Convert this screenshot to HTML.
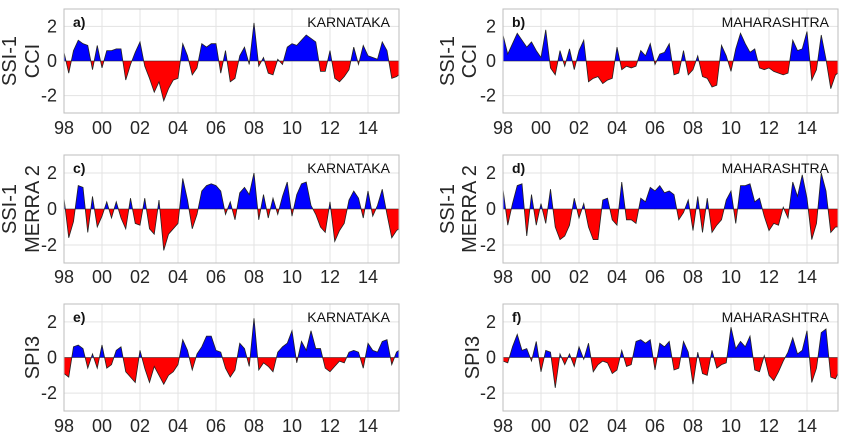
<!DOCTYPE html>
<html><head><meta charset="utf-8"><style>
html,body{margin:0;padding:0;background:#fff;}
svg{display:block;font-family:"Liberation Sans",sans-serif;}
</style></head><body>
<svg id="fig" width="846" height="435" viewBox="0 0 846 435"></svg>
<script>
// Quarterly samples starting 1998.0 (step 0.25 yr)
const startYear = 1998;
const stepYears = 0.25;
const xTickLabels = ["98","00","02","04","06","08","10","12","14"];
const xTickYears = [1998,2000,2002,2004,2006,2008,2010,2012,2014];
const yTickValues = [-2,0,2];
const panelLetters = ["a)","b)","c)","d)","e)","f)"];
const regionNames = ["KARNATAKA","MAHARASHTRA","KARNATAKA","MAHARASHTRA","KARNATAKA","MAHARASHTRA"];
const ssiCciKarnataka = [0.5,-0.7,0.6,1.2, 1.0,0.9,-0.5,0.9, -0.4,0.6,0.6,0.7, 0.7,-1.1,-0.2,0.5, 1.1,-0.3,-1.0,-1.8, -1.2,-2.3,-1.6,-1.1, -1.0,1.0,0.3,-0.8, -0.4,1.0,0.8,1.0, 1.0,-0.7,0.6,-1.2, -1.0,0.3,0.8,-0.2, 2.2,-0.3,0.2,-0.7, -0.8,0.1,-0.2,0.8, 1.0,0.9,1.2,1.5, 1.3,1.1,-0.6,-0.6, 0.6,-1.0,-1.2,-0.9, -0.5,0.8,-0.2,0.9, 0.3,0.2,0.1,1.1, 0.6,-1.0,-0.9,-0.7];
const ssiCciMaharashtra = [1.5,0.4,1.0,1.6, 1.2,0.8,1.1,0.6, 0.2,1.8,-0.4,-0.8, 0.6,-0.3,0.7,-0.5, 0.6,1.2,-1.2,-1.0, -0.9,-1.3,-1.1,-1.0, 0.8,-0.5,-0.3,-0.4, -0.3,0.6,0.3,1.0, -0.2,0.4,0.5,1.0, -0.8,-0.7,0.6,-0.8, -0.5,0.3,-0.9,-1.0, -1.5,-1.4,0.9,0.3, -0.6,0.7,1.6,1.0, 0.5,0.7,-0.4,-0.5, -0.4,-0.6,-0.7,-0.8, -0.7,1.2,0.6,0.7, 1.7,-1.1,-0.5,1.5, 0.1,-1.6,-0.8,-0.6];
const ssiMerraKarnataka = [0.6,-1.6,-0.7,1.3, 1.2,-1.3,0.7,-1.0, -0.4,0.4,-0.5,0.4, -0.5,-1.1,0.6,-0.8, -0.9,0.6,-1.1,-1.4, 0.5,-2.3,-1.4,-1.1, -0.8,1.7,0.5,-1.1, -0.3,1.0,1.3,1.4, 1.3,1.0,-0.3,0.4, -0.6,0.9,1.2,0.8, 2.0,-0.6,0.8,-0.5, 0.6,-0.3,0.7,1.5, -0.4,0.8,1.4,1.5, 0.2,-0.3,-1.0,-1.3, 0.4,-1.8,-1.2,-0.8, 0.5,1.0,0.6,-0.5, 1.0,-0.4,0.2,1.1, -0.3,-1.6,-1.2,-1.0];
const ssiMerraMaharashtra = [1.1,-0.9,0.3,1.3, 1.4,-1.5,0.8,-0.9, 0.3,-0.8,1.1,-1.0, -1.7,-1.5,-0.9,0.6, -0.5,0.3,-1.0,-1.7, -1.7,0.5,0.6,-0.6, -0.9,1.5,-0.6,-0.6, -0.8,0.6,0.4,1.2, 1.0,1.3,0.9,1.0, 0.8,-0.6,-0.2,0.5, -1.2,0.7,-1.3,0.6, -1.3,-0.9,-0.6,0.5, 1.0,-0.8,1.3,1.3, 1.4,0.4,0.6,-0.4, -1.2,-0.8,-0.9,0.1, -0.5,1.5,0.7,1.9, 0.6,-1.7,-0.8,2.0, 1.0,-1.3,-1.0,-1.0];
const spi3Karnataka = [-0.9,-1.1,0.6,0.7, 0.5,-0.6,0.2,-0.6, 0.7,-0.6,-0.4,0.4, 0.6,-0.8,-1.1,-1.4, 0.4,-0.6,-1.4,-0.5, -1.0,-1.5,-1.0,-0.8, -0.4,1.0,0.4,-0.7, 0.2,0.6,1.2,1.2, 0.4,0.3,-0.6,-1.1, -0.7,0.8,0.5,-0.5, 2.2,-0.7,-0.3,-0.5, -0.8,0.3,0.6,0.8, 1.5,-0.3,0.9,0.4, 1.5,0.5,0.5,-0.6, -0.8,-0.5,-0.2,-0.3, 0.3,0.4,0.3,-0.6, 0.8,0.4,0.3,0.9, 1.0,-0.4,0.3,0.5];
const spi3Maharashtra = [-0.2,-0.3,0.6,1.3, 0.4,0.5,-0.2,0.9, -0.8,0.4,0.3,-1.7, 0.2,-0.4,0.2,-0.5, 0.6,-0.1,0.8,-0.8, -0.4,-0.2,-0.3,-0.9, -0.7,0.4,-0.5,-0.4, 0.9,1.0,0.8,1.0, -0.7,0.8,0.6,0.9, -0.7,-0.6,0.9,0.3, -1.5,0.3,-0.9,-1.0, 0.4,-0.6,-0.4,-0.3, 1.7,0.5,0.9,0.6, 1.2,-0.7,-0.8,0.1, -1.0,-1.3,-0.8,-0.2, 0.3,1.1,0.2,0.4, 1.5,-1.4,-0.6,1.4, 1.6,-1.1,-1.2,-0.6];

const NS="http://www.w3.org/2000/svg";
const svg=document.getElementById('fig');
function mk(tag,attrs,parent){const e=document.createElementNS(NS,tag);for(const k in attrs)e.setAttribute(k,attrs[k]);(parent||svg).appendChild(e);return e;}

const series=[ssiCciKarnataka,ssiCciMaharashtra,ssiMerraKarnataka,ssiMerraMaharashtra,spi3Karnataka,spi3Maharashtra];
const cols=[{x0:64,x1:399,yl:57},{x0:503,x1:838,yl:496}];
const rows=[{top:9,bot:113,tickY:134},{top:155,bot:263,tickY:283},{top:304,bot:411,tickY:432}];
const yLabels=[["SSI-1","CCI"],["SSI-1","MERRA 2"],["SPI3"]];
const yLabelX=[[[10,33],[448,470]],[[10,33],[448,470]],[[33],[473]]];

series.forEach((data,i)=>{
  const c=cols[i%2], r=rows[Math.floor(i/2)];
  const g=mk('g',{});
  
  
  const pxPerYear=19;
  const xs=t=>c.x0+(t-1998)*pxPerYear;
  const ys=v=>r.bot-(v+3)*(r.bot-r.top)/6;
  xTickYears.forEach(t=>{const l=mk('line',{x1:xs(t),x2:xs(t),y1:r.top,y2:r.bot,stroke:'#e3e3e3','stroke-width':1},g);
    });
  yTickValues.forEach(v=>{const l=mk('line',{x1:c.x0,x2:c.x1,y1:ys(v),y2:ys(v),stroke:'#e3e3e3','stroke-width':1},g);
    });
  const cid='clip'+i;
  const cp=mk('clipPath',{id:cid},g);
  mk('rect',{x:c.x0,y:r.top,width:c.x1-c.x0,height:r.bot-r.top},cp);
  const pts=data.map((v,k)=>[xs(startYear+k*stepYears),ys(v)]);
  const z=ys(0);
  const poly='M'+pts[0][0]+','+z+' '+pts.map(p=>'L'+p[0]+','+p[1]).join(' ')+' L'+pts[pts.length-1][0]+','+z+' Z';
  const cpPos=mk('clipPath',{id:cid+'p'},g);mk('rect',{x:c.x0,y:r.top,width:c.x1-c.x0,height:z-r.top},cpPos);
  const cpNeg=mk('clipPath',{id:cid+'n'},g);mk('rect',{x:c.x0,y:z,width:c.x1-c.x0,height:r.bot-z},cpNeg);
  const gp=mk('g',{'clip-path':'url(#'+cid+'p)'},g);
  const pa=mk('path',{d:poly,fill:'#0000ff'},gp);
  
  const gn=mk('g',{'clip-path':'url(#'+cid+'n)'},g);
  const na=mk('path',{d:poly,fill:'#ff0000'},gn);
  
  const gl=mk('g',{'clip-path':'url(#'+cid+')'},g);
  const ln=mk('polyline',{points:pts.map(p=>p.join(',')).join(' '),fill:'none',stroke:'#222','stroke-width':0.8},gl);
  
  const zl=mk('line',{x1:c.x0,x2:c.x1,y1:z,y2:z,stroke:'#222','stroke-width':0.6},g);
  
  const fr=mk('rect',{x:c.x0,y:r.top,width:c.x1-c.x0,height:r.bot-r.top,fill:'none',stroke:'#bdbdbd','stroke-width':1},g);
  
  xTickYears.forEach((t,k)=>{const tx=mk('text',{x:xs(t),y:r.tickY,'font-size':18,fill:'#262626','text-anchor':'middle'},g);
    tx.textContent=xTickLabels[k];
    });
  yTickValues.forEach(v=>{const tx=mk('text',{x:c.yl,y:ys(v)+6,'font-size':18,fill:'#262626','text-anchor':'end'},g);
    tx.textContent=String(v);
    });
  const pl=mk('text',{x:c.x0+9,y:r.top+18,'font-size':14,'font-weight':'bold',fill:'#111'},g);
  pl.textContent=panelLetters[i];
  
  const rn=mk('text',{x:c.x1-9,y:r.top+18,'font-size':14,fill:'#111','text-anchor':'end'},g);
  rn.textContent=regionNames[i];
  
  const ri=Math.floor(i/2), ci=i%2;
  const cy=(r.top+r.bot)/2;
  yLabels[ri].forEach((lab,k)=>{const lx=yLabelX[ri][ci][k];
    const tx=mk('text',{x:lx,y:cy,'font-size':20,fill:'#262626','text-anchor':'middle','dominant-baseline':'central',transform:'rotate(-90 '+lx+' '+cy+')'},g);
    tx.textContent=lab;
    });
});
</script>
</body></html>
